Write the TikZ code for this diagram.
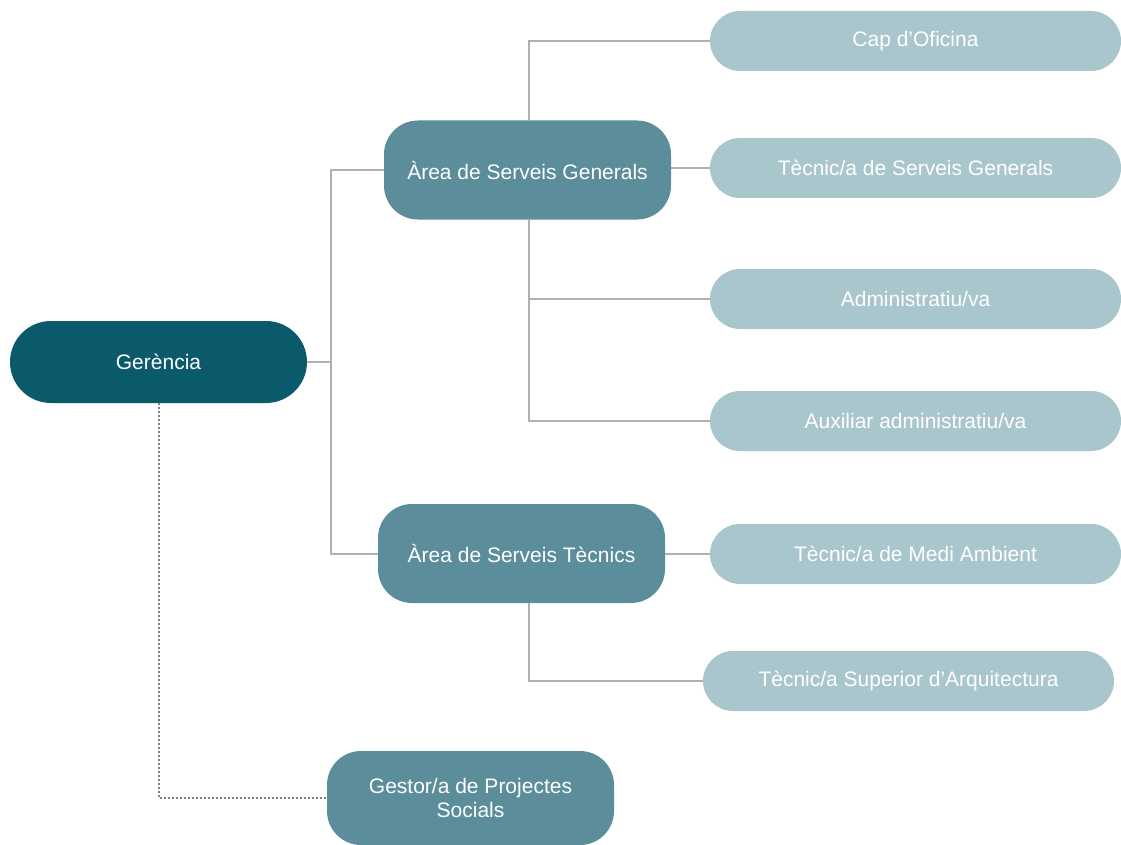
\documentclass[tikz,border=0pt]{standalone}
\usepackage{fontspec}
\setmainfont{Liberation Sans}
\definecolor{gerdark}{HTML}{0B5A6B}
\definecolor{areamid}{HTML}{5B8D9B}
\definecolor{postlight}{HTML}{A9C6CC}
\definecolor{linegray}{HTML}{B0B0B0}
\begin{document}
\begin{tikzpicture}[x=1pt,y=-1pt,
    box/.style={rectangle,text=white,inner sep=0pt,align=center,
                font=\fontsize{21}{24}\selectfont},
    ger/.style={box,fill=gerdark,minimum width=297pt,minimum height=82pt,rounded corners=41pt},
    area/.style={box,fill=areamid,minimum width=287pt,minimum height=99pt,rounded corners=34pt},
    post/.style={box,fill=postlight,minimum width=411pt,minimum height=60pt,rounded corners=30pt},
    conn/.style={draw=linegray,line width=2pt},
    dotconn/.style={draw=gray,line width=2pt,dotted}]
\useasboundingbox (0,0) rectangle (1121,845);

% nodes
\node[ger]  (ger) at (158.5,362) {Gerència};
\node[area] (asg) at (527.5,170) {Àrea de Serveis Generals};
\node[area] (ast) at (521.5,553.5) {Àrea de Serveis Tècnics};
\node[area,minimum height=94pt] (ges) at (470.5,798) {Gestor/a de Projectes\\Socials};

\node[post] (cap) at (915.5,41)  {Cap d’Oficina};
\node[post] (tsg) at (915.5,168) {Tècnic/a de Serveis Generals};
\node[post] (adm) at (915.5,299) {Administratiu/va};
\node[post] (aux) at (915.5,421) {Auxiliar administratiu/va};
\node[post] (tma) at (915.5,554) {Tècnic/a de Medi Ambient};
\node[post] (tsa) at (908.5,681) {Tècnic/a Superior d’Arquitectura};

% connectors
\coordinate (bus) at (331,362);
\coordinate (spine) at (529,0);
\begin{scope}[on background layer/.try]
\draw[conn] (ger.east) -- (bus);
\draw[conn] (asg.west) -- (asg.west -| bus) -- (ast.west -| bus) -- (ast.west);
\draw[conn] (cap.west) -- (cap.west -| spine) -- (asg.north -| spine);
\draw[conn] (tsg.west -| asg.east) -- (tsg.west);
\draw[conn] (asg.south -| spine) -- (aux.west -| spine) -- (aux.west);
\draw[conn] (adm.west -| spine) -- (adm.west);
\draw[conn] (tma.west -| ast.east) -- (tma.west);
\draw[conn] (ast.south -| spine) -- (tsa.west -| spine) -- (tsa.west);
\draw[dotconn] (ger.south) |- (ges.west);
\end{scope}
\end{tikzpicture}
\end{document}
